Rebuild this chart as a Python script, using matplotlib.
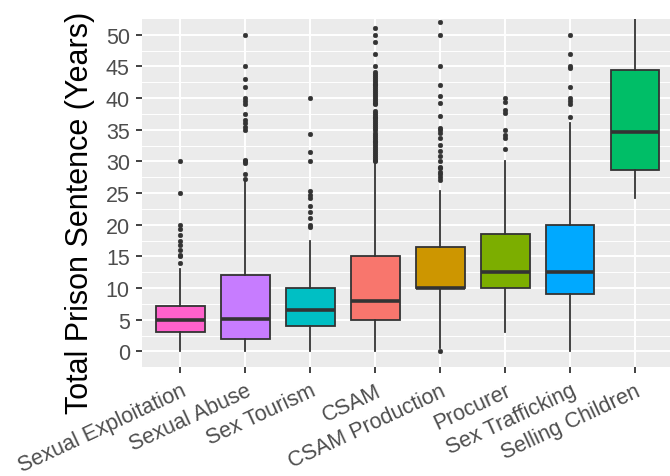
import matplotlib
matplotlib.use("Agg")
import matplotlib.pyplot as plt

categories = ["Sexual Exploitation", "Sexual Abuse", "Sex Tourism", "CSAM",
              "CSAM Production", "Procurer", "Sex Trafficking", "Selling Children"]
colors = ["#FF61CC", "#C77CFF", "#00BFC4", "#F8766D",
          "#CD9600", "#7CAE00", "#00A9FF", "#00BE67"]
q1 = [3, 2, 4, 5, 10, 10, 9, 28.6]
med = [5, 5.2, 6.5, 8, 10, 12.5, 12.5, 34.6]
q3 = [7.2, 12, 10, 15, 16.5, 18.6, 20, 44.4]
whislo = [0, 0, 0, 0, 0.5, 3, 0, 24.3]
whishi = [13, 27, 17.4, 30, 25.4, 30, 36, 60]
fliers = [
    [14, 15, 15.2, 16, 16.8, 17.4, 18.4, 19.3, 20, 25, 30],
    [27.3, 28, 29.8, 30, 30.3, 35, 35.5, 36, 36.5, 37.5, 39, 39.5, 40, 41.7, 43, 45, 50],
    [19.7, 20, 21, 22, 23, 24.2, 24.7, 25.3, 30, 31.5, 34.4, 40],
    [30.0, 30.3, 30.6, 30.9, 31.2, 31.5, 31.8, 32.1, 32.4, 32.7, 33.0, 33.3, 33.6,
     33.9, 34.2, 34.5, 35.0, 35.3, 35.6, 35.9, 36.2, 36.5, 36.8, 37.1, 37.4, 37.7,
     38.0, 39.0, 39.3, 39.6, 39.9, 40.2, 40.5, 40.8, 41.1, 41.4, 41.7, 42.0, 42.3,
     42.6, 42.9, 43.2, 43.5, 43.8, 44.1, 45.1, 47, 48.8, 50, 51],
    [0, 27.1, 27.5, 28, 28.4, 29, 29.2, 30, 30.8, 31.6, 32.6, 33.7, 34.5, 35, 35.3,
     37.2, 39.2, 40.3, 42.1, 45, 50, 52.1],
    [32, 33.7, 34.2, 35, 37.6, 38.2, 39.4, 40],
    [37, 39, 39.5, 40, 41.7, 44.7, 45, 47, 50],
    [],
]
y_ticks = [0, 5, 10, 15, 20, 25, 30, 35, 40, 45, 50]
y_minor = [2.5, 7.5, 12.5, 17.5, 22.5, 27.5, 32.5, 37.5, 42.5, 47.5]
y_label = "Total Prison Sentence (Years)"

plt.rcParams["font.family"] = ["Liberation Sans", "DejaVu Sans"]

fig = plt.figure(figsize=(6.7, 4.77), dpi=100)
L, R, T, B = 141.5, 674.0, 20.0, 368.3
ax = fig.add_axes([L / 670, 1 - B / 477, (R - L) / 670, (B - T) / 477])
ax.set_facecolor("#EBEBEB")
for s in ax.spines.values():
    s.set_visible(False)

positions = list(range(1, len(categories) + 1))
stats = []
for i in range(len(categories)):
    stats.append(dict(q1=q1[i], med=med[i], q3=q3[i], whislo=whislo[i],
                      whishi=whishi[i], fliers=fliers[i]))

# grid
for y in y_minor:
    ax.axhline(y, color="white", lw=0.7, zorder=0)
for y in y_ticks:
    ax.axhline(y, color="white", lw=1.4, zorder=0)
for x in positions:
    ax.axvline(x, color="white", lw=1.4, zorder=0)

bp = ax.bxp(stats, positions=positions, widths=0.75, patch_artist=True,
            showcaps=False,
            boxprops=dict(edgecolor="#333333", linewidth=1.3),
            whiskerprops=dict(color="#333333", linewidth=1.3),
            medianprops=dict(color="#333333", linewidth=2.6, solid_capstyle="butt"),
            flierprops=dict(marker="o", markersize=3.4, markerfacecolor="#333333",
                            markeredgecolor="#333333", markeredgewidth=0.3))
for patch, c in zip(bp["boxes"], colors):
    patch.set_facecolor(c)
    patch.set_zorder(2)

ax.set_xlim(0.4, 8.6)
ax.set_ylim(-2.5, 52.5)
ax.set_yticks(y_ticks)
ax.set_yticklabels([str(t) for t in y_ticks])
ax.set_xticks(positions)
ax.set_xticklabels(categories, rotation=25, ha="right", va="top", rotation_mode="anchor")
ax.tick_params(axis="both", colors="#333333", length=4.1, width=1.3,
               labelcolor="#4D4D4D", labelsize=15.5)
ax.tick_params(axis="y", pad=4.3)
ax.tick_params(axis="x", pad=5)
ax.set_ylabel(y_label, fontsize=22, color="black")
ax.yaxis.set_label_coords((95 - L) / (R - L), (B - 213) / (B - T))

fig.savefig("out.png", dpi=100)
